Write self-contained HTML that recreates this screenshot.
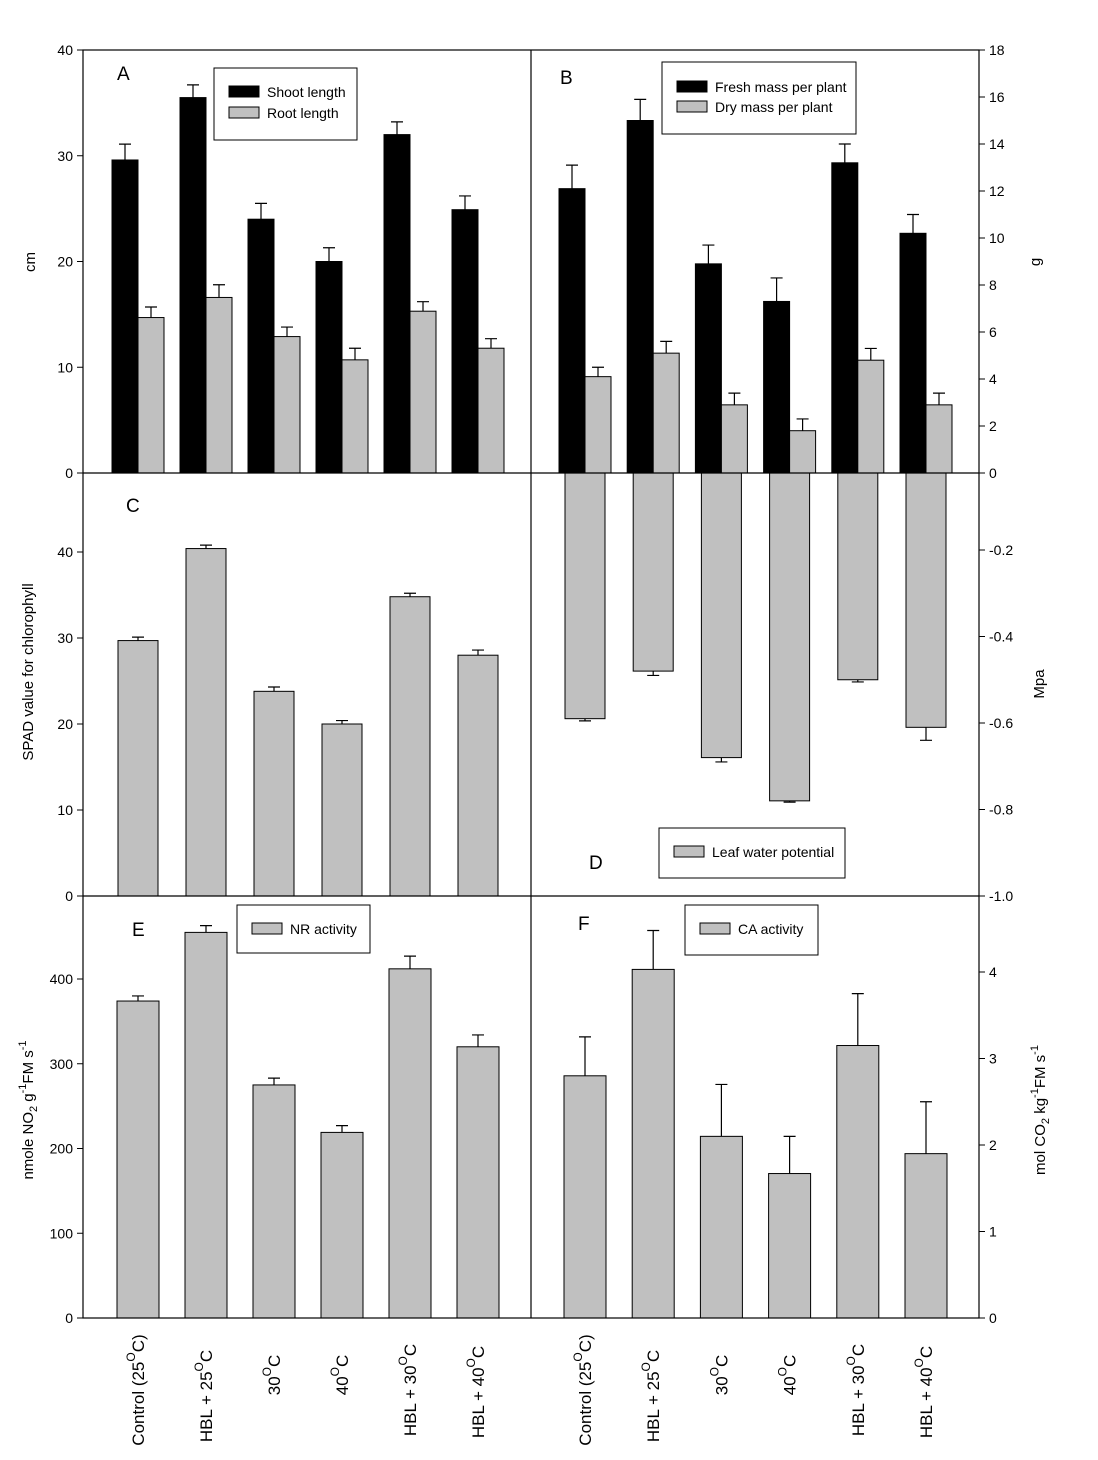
<!DOCTYPE html>
<html><head><meta charset="utf-8"><style>
body{margin:0;background:#fff}
svg{display:block;font-family:"Liberation Sans",Arial,sans-serif}
</style></head><body>
<svg id="chart" width="1098" height="1460" viewBox="0 0 1098 1460" xmlns="http://www.w3.org/2000/svg"></svg>
<script>
const categories=["Control (25°C)","HBL + 25°C","30°C","40°C","HBL + 30°C","HBL + 40°C"];
const shootLength=[29.6,35.5,24.0,20.0,32.0,24.9];
const shootErr=[1.5,1.2,1.5,1.3,1.2,1.3];
const rootLength=[14.7,16.6,12.9,10.7,15.3,11.8];
const rootErr=[1.0,1.2,0.9,1.1,0.9,0.9];
const freshMass=[12.1,15.0,8.9,7.3,13.2,10.2];
const freshErr=[1.0,0.9,0.8,1.0,0.8,0.8];
const dryMass=[4.1,5.1,2.9,1.8,4.8,2.9];
const dryErr=[0.4,0.5,0.5,0.5,0.5,0.5];
const spad=[29.7,40.4,23.8,20.0,34.8,28.0];
const spadErr=[0.4,0.4,0.5,0.4,0.4,0.6];
const lwp=[-0.59,-0.48,-0.68,-0.78,-0.50,-0.61];
const lwpErr=[0.005,0.01,0.01,0.003,0.005,0.03];
const nr=[374,455,275,219,412,320];
const nrErr=[6,8,8,8,15,14];
const ca=[2.80,4.03,2.10,1.67,3.15,1.90];
const caErr=[0.45,0.45,0.6,0.43,0.6,0.6];
const ticksA=[0,10,20,30,40];
const ticksB=[0,2,4,6,8,10,12,14,16,18];
const ticksC=[0,10,20,30,40];
const ticksD=[-0.2,-0.4,-0.6,-0.8,-1.0];
const ticksE=[0,100,200,300,400];
const ticksF=[0,1,2,3,4];

const NS="http://www.w3.org/2000/svg";
const svg=document.getElementById('chart');
function el(tag,attrs,parent){const e=document.createElementNS(NS,tag);for(const k in attrs)e.setAttribute(k,attrs[k]);(parent||svg).appendChild(e);return e;}
function lin(d0,d1,r0,r1){return v=>r0+(v-d0)*(r1-r0)/(d1-d0);}
const L0=83,MID=531,R1=979;
const leftCenters=i=>138+i*68;
const rightCenters=i=>585+i*68.2;
const yA=lin(0,40,473,50), yB=lin(0,18,473,50), yC=lin(0,40,896,552), yD=lin(-1,0,896,463.5), yE=lin(0,400,1318,979), yF=lin(0,4,1318,972);
const GRAY="#c0c0c0";

function bar(x,w,y0,y1,fill,name){
  const r=el('rect',{x:x,y:Math.min(y0,y1),width:w,height:Math.abs(y1-y0),fill:fill,stroke:'#000','stroke-width':1});
  
  
}
function err(xc,yv,ye,name){
  const g=el('path',{d:`M${xc},${yv}L${xc},${ye}M${xc-6},${ye}L${xc+6},${ye}`,stroke:'#000','stroke-width':1.2,fill:'none'});
  
  
}
function text(x,y,s,opt){const t=el('text',Object.assign({x:x,y:y,'font-size':14,fill:'#000'},opt||{}));t.textContent=s;return t;}
function leftAxis(ticks,sc,fmt){ticks.forEach(v=>{const y=sc(v);el('line',{x1:L0-6,x2:L0,y1:y,y2:y,stroke:'#000'});const t=text(L0-10,y+5,fmt?fmt(v):v,{'text-anchor':'end'});});}
function rightAxis(ticks,sc,fmt){ticks.forEach(v=>{const y=sc(v);el('line',{x1:R1,x2:R1+6,y1:y,y2:y,stroke:'#000'});const t=text(R1+10,y+5,fmt?fmt(v):v,{'text-anchor':'start'});});}

shootLength.forEach((v,i)=>{const c=leftCenters(i);bar(c-26,26,yA(0),yA(v),'#000','bar-shoot');err(c-13,yA(v),yA(v+shootErr[i]),'error-shoot');});
rootLength.forEach((v,i)=>{const c=leftCenters(i);bar(c,26,yA(0),yA(v),GRAY,'bar-root');err(c+13,yA(v),yA(v+rootErr[i]),'error-root');});
leftAxis(ticksA,yA);
freshMass.forEach((v,i)=>{const c=rightCenters(i);bar(c-26,26,yB(0),yB(v),'#000','bar-fresh');err(c-13,yB(v),yB(v+freshErr[i]),'error-fresh');});
dryMass.forEach((v,i)=>{const c=rightCenters(i);bar(c,26,yB(0),yB(v),GRAY,'bar-dry');err(c+13,yB(v),yB(v+dryErr[i]),'error-dry');});
rightAxis(ticksB,yB);
spad.forEach((v,i)=>{const c=leftCenters(i);bar(c-20,40,yC(0),yC(v),GRAY,'bar-spad');err(c,yC(v),yC(v+spadErr[i]),'error-spad');});
leftAxis(ticksC,yC);
lwp.forEach((v,i)=>{const c=rightCenters(i);bar(c-20,40,473,yD(v),GRAY,'bar-lwp');err(c,yD(v),yD(v-lwpErr[i]),'error-lwp');});
rightAxis(ticksD,yD,v=>v.toFixed(1));
nr.forEach((v,i)=>{const c=leftCenters(i);bar(c-21,42,yE(0),yE(v),GRAY,'bar-nr');err(c,yE(v),yE(v+nrErr[i]),'error-nr');});
leftAxis(ticksE,yE);
ca.forEach((v,i)=>{const c=rightCenters(i);bar(c-21,42,yF(0),yF(v),GRAY,'bar-ca');err(c,yF(v),yF(v+caErr[i]),'error-ca');});
rightAxis(ticksF,yF);

el('rect',{x:L0,y:50,width:R1-L0,height:1268,fill:'none',stroke:'#000','stroke-width':1.2});
el('line',{x1:MID,x2:MID,y1:50,y2:1318,stroke:'#000','stroke-width':1.2});
el('line',{x1:L0,x2:R1,y1:473,y2:473,stroke:'#000','stroke-width':1.2});
el('line',{x1:L0,x2:R1,y1:896,y2:896,stroke:'#000','stroke-width':1.2});

[["A",117,80],["B",560,84],["C",126,512],["D",589,869],["E",132,936],["F",578,930]].forEach(p=>{const t=text(p[1],p[2],p[0],{'font-size':19});});

function legend(x,y,w,h,items,name){
  const g=el('g',{});
  el('rect',{x:x,y:y,width:w,height:h,fill:'#fff',stroke:'#000'},g);
  items.forEach((it,k)=>{const yy=y+it[2];el('rect',{x:x+15,y:yy-7,width:30,height:11,fill:it[1],stroke:'#000'},g);const t=el('text',{x:x+53,y:yy+4,'font-size':14},g);t.textContent=it[0];});
}
legend(214,68,143,72,[["Shoot length","#000",25],["Root length",GRAY,46]],'legend-a');
legend(662,62,194,72,[["Fresh mass per plant","#000",26],["Dry mass per plant",GRAY,46]],'legend-b');
legend(659,828,186,50,[["Leaf water potential",GRAY,25]],'legend-d');
legend(237,905,133,48,[["NR activity",GRAY,25]],'legend-e');
legend(685,905,133,50,[["CA activity",GRAY,25]],'legend-f');

function vtitle(x,y,html,name){const t=el('text',{x:0,y:0,'font-size':15,'text-anchor':'middle',transform:`translate(${x},${y}) rotate(-90)`});t.innerHTML=html;}
vtitle(35,262,'cm','y-axis-title-a');
vtitle(1040,262,'g','y-axis-title-b');
vtitle(33,672,'SPAD value for chlorophyll','y-axis-title-c');
vtitle(1044,684,'Mpa','y-axis-title-d');
vtitle(33,1110,'nmole NO<tspan font-size="11" dy="4">2</tspan><tspan dy="-4"> g</tspan><tspan font-size="11" dy="-7">-1</tspan><tspan dy="7">FM s</tspan><tspan font-size="11" dy="-7">-1</tspan>','y-axis-title-e');
vtitle(1045,1110,'mol CO<tspan font-size="11" dy="4">2</tspan><tspan dy="-4"> kg</tspan><tspan font-size="11" dy="-7">-1</tspan><tspan dy="7">FM s</tspan><tspan font-size="11" dy="-7">-1</tspan>','y-axis-title-f');

const xlabelHtml=['Control (25<tspan font-size="12" dy="-9">O</tspan><tspan dy="9">C)</tspan>','HBL + 25<tspan font-size="12" dy="-9">O</tspan><tspan dy="9">C</tspan>','30<tspan font-size="12" dy="-9">O</tspan><tspan dy="9">C</tspan>','40<tspan font-size="12" dy="-9">O</tspan><tspan dy="9">C</tspan>','HBL + 30<tspan font-size="12" dy="-9">O</tspan><tspan dy="9">C</tspan>','HBL + 40<tspan font-size="12" dy="-9">O</tspan><tspan dy="9">C</tspan>'];
const xCenterY=[1390,1396,1375,1375,1390,1392];
categories.forEach((c,i)=>{[leftCenters(i),rightCenters(i)].forEach(x=>{const t=el('text',{x:0,y:0,'font-size':17,'text-anchor':'middle',transform:`translate(${x+6},${xCenterY[i]}) rotate(-90)`});t.innerHTML=xlabelHtml[i];});});
</script>
</body></html>
